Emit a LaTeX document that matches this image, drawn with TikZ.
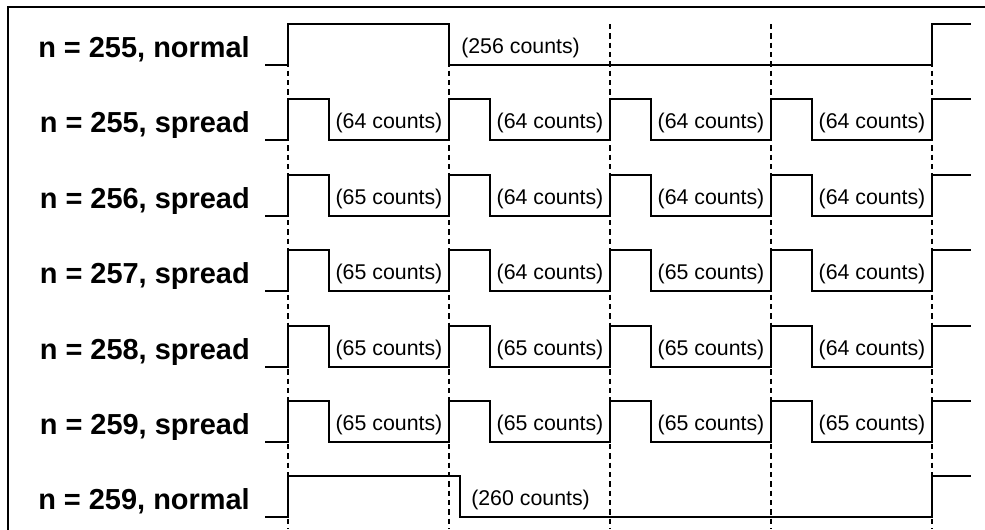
\documentclass[tikz,border=0pt]{standalone}
\usepackage{fontspec}
\setmainfont{Liberation Sans}
\usetikzlibrary{positioning}
\tikzstyle{wave}=[line width=1.5pt, line join=miter]
\tikzstyle{divider}=[line width=1.5pt, dash pattern=on 4pt off 3pt]
\tikzstyle{frame}=[line width=1.5pt]
\tikzstyle{rowlabel}=[anchor=base east, inner sep=0pt, font=\bfseries\fontsize{21.7}{26}\selectfont]
\tikzstyle{counts}=[anchor=base, inner sep=0pt, font=\fontsize{16}{19}\selectfont]

\begin{document}
\begin{tikzpicture}[x=0.75pt, y=-0.75pt]
  \useasboundingbox (0,0) rectangle (985,529);
  \clip (0,0) rectangle (985,529);
  \draw[frame] (995,7) -| (8,540);
  % period markers
  \foreach \x in {288,449,610,771,932}
    \draw[divider] (\x,24) -- (\x,529);
  % n = 255, normal
  \node[rowlabel] (n255) at (250,57) {n = 255, normal};
  \draw[wave] (265,65) -| (288,24) -| (449,65) -| (932,24) -- (971,24);
  \node[counts, anchor=base west] (c256) at (461,53) {(256 counts)};
  % spread rows
  \foreach \n/\a/\b/\c/\d [count=\i] in {255/64/64/64/64, 256/65/64/64/64,
      257/65/64/65/64, 258/65/65/65/64, 259/65/65/65/65} {
    \pgfmathtruncatemacro\t{24.5+75.4*\i}
    \node[rowlabel] (s\n) at (250,\t+33) {n = \n, spread};
    \draw[wave] (265,\t+41) foreach \x in {288,449,610,771} {
      -| (\x,\t) -| (\x+41,\t+41) } -| (932,\t) -- (971,\t);
    \foreach \x/\v in {288/\a, 449/\b, 610/\c, 771/\d}
      \node[counts] (c\n-\x) at (\x+101,\t+29) {(\v\ counts)};
  }
  % n = 259, normal
  \node[rowlabel] (n259) at (250,509) {n = 259, normal};
  \draw[wave] (265,517) -| (288,476) -| (460,517) -| (932,476) -- (971,476);
  \node[counts, anchor=base west] (c260) at (471,505) {(260 counts)};
\end{tikzpicture}
\end{document}
